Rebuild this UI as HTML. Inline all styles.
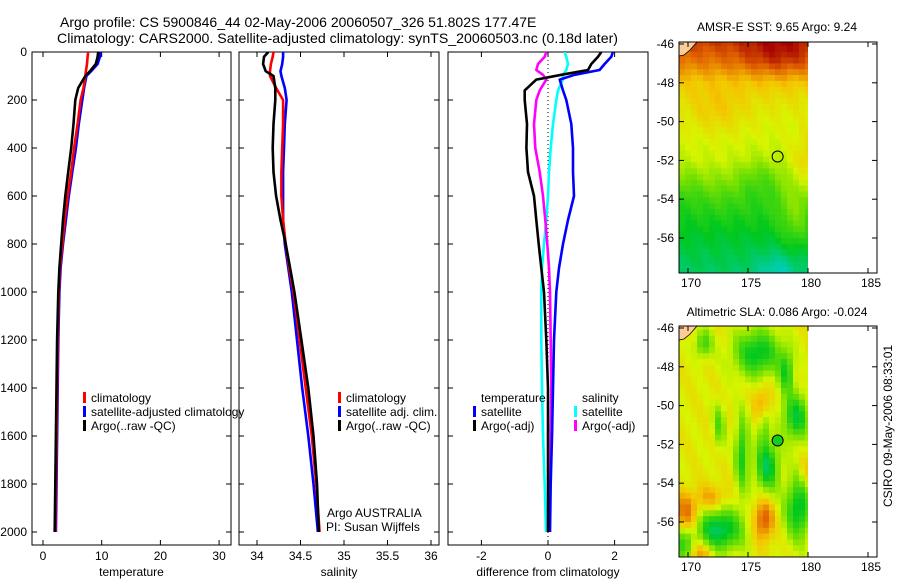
<!DOCTYPE html>
<html><head><meta charset="utf-8"><style>
body{margin:0;background:#fff}
svg{display:block;font-family:"Liberation Sans",sans-serif}
</style></head><body>
<svg id="chart" width="900" height="580" viewBox="0 0 900 580" xmlns="http://www.w3.org/2000/svg">
<rect width="900" height="580" fill="#fff"/>
<text x="60" y="27" font-size="14">Argo profile: CS 5900846_44 02-May-2006 20060507_326 51.802S 177.47E</text>
<text x="57" y="43" font-size="14" textLength="561" lengthAdjust="spacingAndGlyphs">Climatology: CARS2000. Satellite-adjusted climatology: synTS_20060503.nc (0.18d later)</text>
<g id="g"></g>
<text x="777" y="31" font-size="12" text-anchor="middle">AMSR-E SST: 9.65 Argo: 9.24</text>
<text x="777" y="316" font-size="12" text-anchor="middle">Altimetric SLA: 0.086 Argo: -0.024</text>
<text x="0" y="0" font-size="12" text-anchor="middle" transform="translate(892,426) rotate(-90)">CSIRO 09-May-2006 08:33:01</text>
</svg>
<script>
// ---- data ----
const depths = [0,20,50,80,100,150,200,300,400,500,600,700,800,900,1000,1200,1400,1600,1800,2000];
const climT = [7.7,7.6,7.5,7.3,7.2,6.9,6.4,5.9,5.3,4.8,4.2,3.7,3.3,2.9,2.7,2.5,2.4,2.3,2.2,2.1];
const satT  = [9.8,9.7,9.3,8.2,7.4,7.0,6.7,6.1,5.6,5.0,4.4,3.9,3.4,3.0,2.8,2.6,2.5,2.4,2.3,2.2];
const argoT = [9.4,9.3,9.0,8.0,7.2,6.0,5.5,5.2,4.8,4.3,3.8,3.4,3.1,2.8,2.6,2.4,2.3,2.2,2.1,2.0];
const climS = [34.19,34.18,34.16,34.15,34.15,34.22,34.30,34.30,34.29,34.28,34.28,34.30,34.33,34.37,34.42,34.49,34.56,34.63,34.68,34.72];
const satS  = [34.30,34.30,34.29,34.27,34.28,34.32,34.34,34.32,34.31,34.30,34.30,34.30,34.32,34.36,34.40,34.46,34.52,34.59,34.65,34.70];
const argoS = [34.13,34.08,34.07,34.10,34.19,34.21,34.21,34.19,34.18,34.19,34.22,34.27,34.33,34.38,34.43,34.51,34.59,34.65,34.69,34.71];
const diffDepths = [0,20,50,75,95,115,160,200,300,400,500,600,700,800,900,1000,1200,1400,1600,1800,2000];
const diffTempSat  = [1.95,1.9,1.7,1.55,0.8,0.35,0.45,0.55,0.7,0.75,0.75,0.78,0.6,0.45,0.33,0.25,0.18,0.15,0.12,0.08,0.06];
const diffTempArgo = [1.6,1.5,1.3,1.2,0.4,-0.35,-0.7,-0.7,-0.63,-0.65,-0.6,-0.42,-0.35,-0.28,-0.2,-0.12,-0.05,0,0,0,0];
const diffSalSat   = [0.5,0.55,0.6,0.55,0.45,0.45,0.3,0.25,0.15,0.08,0.03,0,-0.05,-0.12,-0.18,-0.2,-0.2,-0.18,-0.15,-0.1,-0.06];
const diffSalArgo  = [-0.05,-0.1,-0.3,-0.35,-0.15,-0.05,-0.25,-0.35,-0.42,-0.38,-0.25,-0.15,-0.08,-0.02,0.03,0.06,0.08,0.1,0.08,0.06,0.05];
const depthTicks = [0,200,400,600,800,1000,1200,1400,1600,1800,2000];
const tempTicks = [0,10,20,30];
const salTicks = [34,34.5,35,35.5,36];
const salTickLabels = ["34","34.5","35","35.5","36"];
const diffTicks = [-2,0,2];
const lonTicks = [170,175,180,185];
const latTicks = [-46,-48,-50,-52,-54,-56];

const NS="http://www.w3.org/2000/svg";
const G=document.getElementById('g');
function mk(tag,attrs,parent){const e=document.createElementNS(NS,tag);for(const k in attrs)e.setAttribute(k,attrs[k]);(parent||G).appendChild(e);return e;}

const Y0=52, YS=0.24;
const yD = d => Y0 + YS*d;
const PT=52, PB=545;
const panels = [
 {name:'temperature', l:32, r:231, x:v=>43+(v-0)*5.87, ticks:tempTicks, labels:tempTicks.map(String), title:'temperature'},
 {name:'salinity', l:239, r:439, x:v=>257+(v-34)*87, ticks:salTicks, labels:salTickLabels, title:'salinity'},
 {name:'difference', l:448, r:648, x:v=>548+v*33.3, ticks:diffTicks, labels:diffTicks.map(String), title:'difference from climatology'}
];
panels.forEach((p,i)=>{
  const clip=mk('clipPath',{id:'clip'+i});
  mk('rect',{x:p.l,y:PT,width:p.r-p.l,height:PB-PT},clip);
  const box=mk('rect',{x:p.l,y:PT,width:p.r-p.l,height:PB-PT,fill:'none',stroke:'#000','stroke-width':1});
  
  
  depthTicks.forEach(d=>{
    const t1=mk('line',{x1:p.l,x2:p.l+5,y1:yD(d),y2:yD(d),stroke:'#000'});
    
    
    const t2=mk('line',{x1:p.r,x2:p.r-5,y1:yD(d),y2:yD(d),stroke:'#000'});
    
    
    if(i===0){
      const tl=mk('text',{x:27,y:yD(d)+4,'font-size':12,'text-anchor':'end'});
      tl.textContent=d;
      
      
    }
  });
  p.ticks.forEach((v,j)=>{
    const X=p.x(v);
    const a=mk('line',{x1:X,x2:X,y1:PB,y2:PB-5,stroke:'#000'});
    
    
    const b=mk('line',{x1:X,x2:X,y1:PT,y2:PT+5,stroke:'#000'});
    
    
    const tl=mk('text',{x:X,y:560,'font-size':12,'text-anchor':'middle'});
    tl.textContent=p.labels[j];
    
    
  });
  const at=mk('text',{x:(p.l+p.r)/2,y:576,'font-size':12,'text-anchor':'middle'});
  at.textContent=p.title;
  
  
});
function line(p,idx,ds,vs,color,name){
  const pts=ds.map((d,k)=>p.x(vs[k]).toFixed(1)+','+yD(d).toFixed(1)).join(' ');
  const e=mk('polyline',{points:pts,fill:'none',stroke:color,'stroke-width':2.6,'stroke-linejoin':'round','clip-path':'url(#clip'+idx+')'});
  
  
}
const zl=mk('line',{x1:panels[2].x(0),x2:panels[2].x(0),y1:PT,y2:PB,stroke:'#000','stroke-dasharray':'1,3'});


line(panels[0],0,depths,satT,'#0000ff','temperature-satellite-line');
line(panels[0],0,depths,climT,'#ff0000','temperature-climatology-line');
line(panels[0],0,depths,argoT,'#000000','temperature-argo-line');
line(panels[1],1,depths,satS,'#0000ff','salinity-satellite-line');
line(panels[1],1,depths,climS,'#ff0000','salinity-climatology-line');
line(panels[1],1,depths,argoS,'#000000','salinity-argo-line');
line(panels[2],2,diffDepths,diffSalSat,'#00ffff','diff-salinity-satellite-line');
line(panels[2],2,diffDepths,diffSalArgo,'#ff00ff','diff-salinity-argo-line');
line(panels[2],2,diffDepths,diffTempSat,'#0000ff','diff-temperature-satellite-line');
line(panels[2],2,diffDepths,diffTempArgo,'#000000','diff-temperature-argo-line');

function legend(x,y,color,label){
  if(color){const m=mk('rect',{x:x,y:y-6,width:3,height:11,fill:color});
    
    }
  const t=mk('text',{x:x+8,y:y+4,'font-size':12});
  t.textContent=label;
  
  
}
legend(83,398,'#ff0000','climatology');
legend(83,412,'#0000ff','satellite-adjusted climatology');
legend(83,426,'#000000','Argo(..raw -QC)');
legend(338,398,'#ff0000','climatology');
legend(338,412,'#0000ff','satellite adj. clim.');
legend(338,426,'#000000','Argo(..raw -QC)');
legend(473,398,null,'temperature');
legend(473,412,'#0000ff','satellite');
legend(473,426,'#000000','Argo(-adj)');
legend(574,398,null,'salinity');
legend(574,412,'#00ffff','satellite');
legend(574,426,'#ff00ff','Argo(-adj)');
const ag=mk('text',{x:327,y:517,'font-size':12});
ag.textContent='Argo AUSTRALIA';


const pi=mk('text',{x:326,y:531,'font-size':12});
pi.textContent='PI: Susan Wijffels';



// ---- maps ----
const stops=[[0,[0,205,190]],[0.22,[0,200,30]],[0.42,[120,225,0]],[0.55,[215,245,0]],[0.68,[245,195,0]],[0.84,[225,100,0]],[1,[165,0,0]]];
function cmap(v){v=Math.max(0,Math.min(1,v));for(let i=1;i<stops.length;i++){if(v<=stops[i][0]){const a=stops[i-1],b=stops[i],t=(v-a[0])/(b[0]-a[0]);return 'rgb('+a[1].map((c,k)=>Math.round(c+(b[1][k]-c)*t)).join(',')+')';}}return 'rgb(165,0,0)';}
function blob(lon,lat,cx,cy,rx,ry,a){const dx=(lon-cx)/rx,dy=(lat-cy)/ry;return a*Math.exp(-(dx*dx+dy*dy)*0.7);}
function sstField(lon,lat){
  const latP=[[-45.9,0.9],[-47,0.8],[-48,0.66],[-49,0.6],[-50,0.56],[-52,0.53],[-53,0.45],[-54,0.34],[-55,0.26],[-56,0.2],[-58,0.12]];
  let v=0.5;for(let i=1;i<latP.length;i++){if(lat>=latP[i][0]){const a=latP[i-1],b=latP[i];v=a[1]+(b[1]-a[1])*(lat-a[0])/(b[0]-a[0]);break;}}
  v+=blob(lon,lat,177.5,-46.5,2.5,1,0.12)+blob(lon,lat,172.5,-49.5,2,1,0.08)+blob(lon,lat,180,-52,1,1.2,0.1)-blob(lon,lat,176,-53,1.5,1,0.1)-blob(lon,lat,177.5,-57.6,1.5,0.8,0.12)+blob(lon,lat,179,-55,1.2,1.5,0.14)-blob(lon,lat,170,-53.5,1,1,0.05);
  v+=0.02*Math.sin(lon*3.1+lat*2.3);
  return v;
}
function slaField(lon,lat){
  let v=0.58+0.03*Math.sin(lon*2.7+lat*1.9);
  v-=blob(lon,lat,175.8,-47.3,1.6,1.0,0.38);
  v-=blob(lon,lat,178.2,-48.3,0.5,0.9,0.3);
  v-=blob(lon,lat,171.3,-46.8,0.6,0.6,0.25);
  v-=blob(lon,lat,179,-50.6,0.9,1.0,0.38);
  v-=blob(lon,lat,176.6,-53.1,0.8,1.1,0.42);
  v-=blob(lon,lat,174.5,-52.5,0.45,1.6,0.33);
  v-=blob(lon,lat,172.6,-51,0.4,0.9,0.22);
  v-=blob(lon,lat,176.3,-51.2,0.3,0.8,0.2);
  v-=blob(lon,lat,172.6,-56.4,1.6,0.9,0.45);
  v-=blob(lon,lat,179.2,-55.3,0.9,1.3,0.4);
  v-=blob(lon,lat,169.6,-57.3,0.6,0.8,0.3);
  v+=blob(lon,lat,176.3,-55.9,0.7,0.9,0.3);
  v+=blob(lon,lat,169.8,-55.6,0.9,0.9,0.25);
  v+=blob(lon,lat,172,-54.8,1.1,0.6,0.16);
  v+=blob(lon,lat,171,-57.6,0.9,0.5,0.2);
  v+=blob(lon,lat,176.2,-49.8,0.6,0.8,0.15);
  v+=blob(lon,lat,179.8,-53.5,0.4,0.7,0.12);
  return v;
}
const LX=lon=>688+(lon-170)*12;
function drawMap(top,field,name,filledCircle){
  const LY=lat=>top+2+(-46-lat)*19.4;
  const bottom=top+231;
  const g=mk('g',{});
  
  
  for(let lon=169.25;lon<180;lon+=0.5){
    for(let la=-45.8; la>-58; la-=0.3){
      const x=LX(lon),y=Math.max(top,LY(la));if(y>=bottom)continue;
      const h=Math.min(LY(la-0.3),bottom)-y;
      const r=mk('rect',{x:x.toFixed(1),y:y.toFixed(1),width:6.3,height:(h+0.3).toFixed(1),fill:cmap(field(lon+0.25,la-0.15))},g);
      
      
    }
  }
  const land=mk('polygon',{points:`679,${top} 697,${top} 690,${top+8} 684,${top+13} 679,${top+14}`,fill:'#ffcc99',stroke:'#000','stroke-width':0.8},g);
  
  
  const wm=mk('rect',{x:LX(180),y:top,width:877-LX(180),height:bottom-top,fill:'#fff'},g);
  
  
  const fr=mk('rect',{x:679,y:top,width:198,height:bottom-top,fill:'none',stroke:'#000'},g);
  
  
  lonTicks.forEach(l=>{
    const t=mk('line',{x1:LX(l),x2:LX(l),y1:bottom,y2:bottom-5,stroke:'#000'},g);
    
    
    const t2=mk('line',{x1:LX(l),x2:LX(l),y1:top,y2:top+5,stroke:'#000'},g);
    
    
    const tl=mk('text',{x:LX(l)+3,y:bottom+14,'font-size':12,'text-anchor':'middle'},g);
    tl.textContent=l;
    
    
  });
  latTicks.forEach(l=>{
    const t=mk('line',{x1:679,x2:684,y1:LY(l),y2:LY(l),stroke:'#000'},g);
    
    
    const t2=mk('line',{x1:877,x2:872,y1:LY(l),y2:LY(l),stroke:'#000'},g);
    
    
    const tl=mk('text',{x:674,y:LY(l)+4,'font-size':12,'text-anchor':'end'},g);
    tl.textContent=l;
    
    
  });
  const c=mk('circle',{cx:LX(177.47),cy:LY(-51.8),r:5.5,fill:filledCircle?'#11cc22':'none',stroke:'#000','stroke-width':1},g);
  
  
}
drawMap(42,sstField,'sst-map',false);
drawMap(326,slaField,'sla-map',true);
</script>
</body></html>
